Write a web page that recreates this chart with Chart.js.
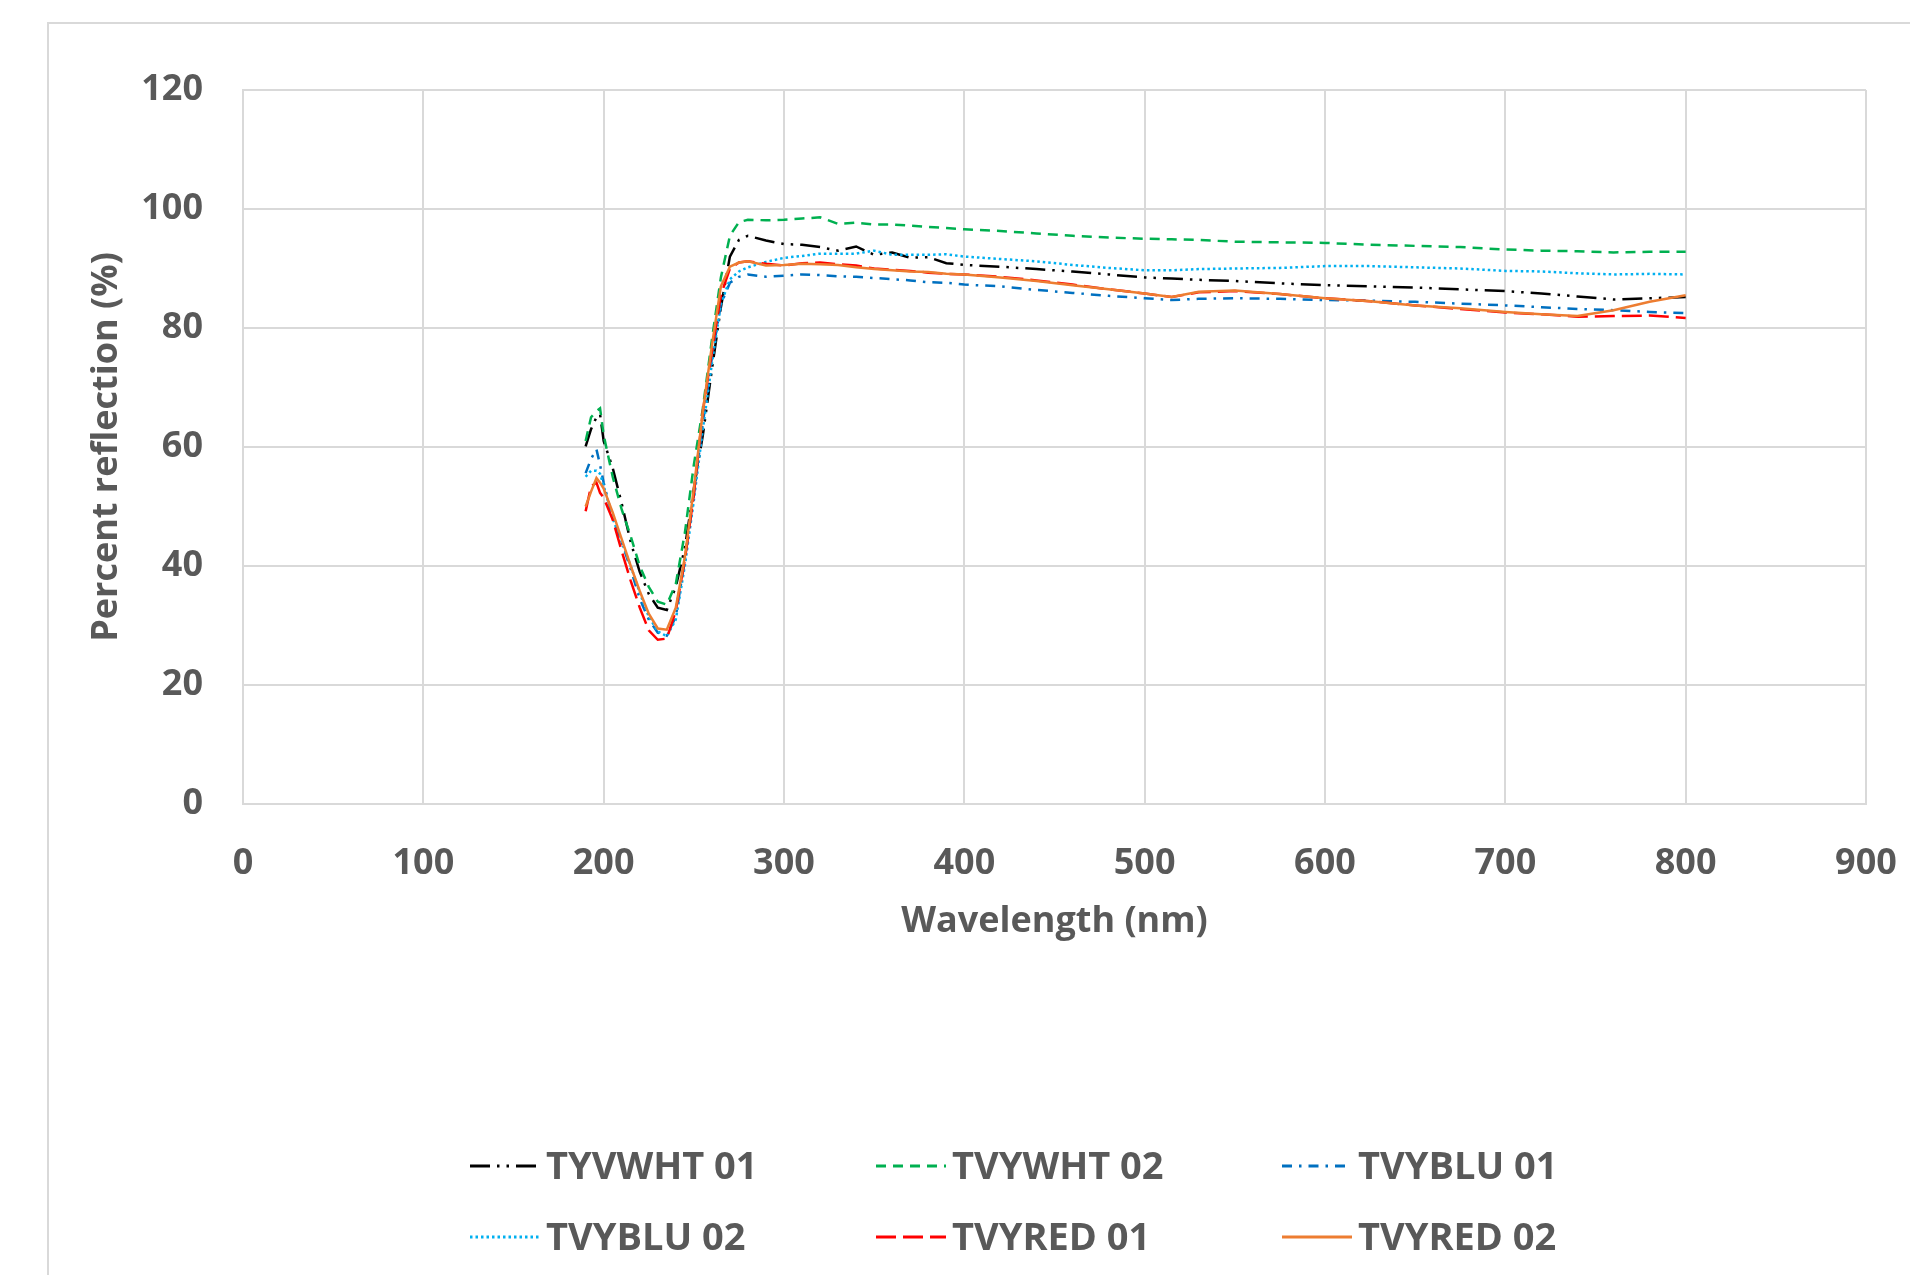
<!DOCTYPE html>
<html>
<head>
<meta charset="utf-8">
<script src="https://cdn.jsdelivr.net/npm/chart.js@4.4.0/dist/chart.umd.min.js"></script>
<style>
  html, body { margin: 0; padding: 0; background: #fff; overflow: hidden; }
  #wrap { position: relative; width: 1910px; height: 1275px; overflow: hidden; }
  #frame { position: absolute; left: 47px; top: 22px; width: 2000px; height: 1400px;
           border-left: 2px solid #d9d9d9; border-top: 2px solid #d9d9d9; }
  canvas { position: absolute; left: 0; top: 0; }
</style>
</head>
<body>
<div id="wrap">
  <div id="frame"></div>
  <canvas id="spectra" width="1910" height="1275"></canvas>
</div>
<script>
const wavelengths = [190, 193, 196, 198, 200, 205, 210, 215, 220, 225, 230, 235, 240, 245, 250, 255, 260, 265, 270, 275,
  280, 290, 300, 310, 320, 330, 340, 350, 360, 370, 380, 390, 400, 420, 440, 460, 480, 500, 515, 530,
  550, 575, 600, 625, 650, 675, 700, 720, 740, 760, 780, 800];

// percent reflection per sample
const tyvwht01 = [60.1, 63, 65, 65.5, 61, 56.5, 50.5, 44, 39, 35.3, 33, 32.6, 36.5, 43, 53, 62, 73, 83.5, 92, 94.8,
  95.5, 94.7, 94.1, 94.0, 93.6, 93.0, 93.7, 92.3, 92.7, 91.8, 91.9, 90.9, 90.6, 90.3, 89.9, 89.5, 89.0, 88.5, 88.3, 88.1,
  87.9, 87.5, 87.2, 87.0, 86.8, 86.5, 86.2, 85.8, 85.3, 84.8, 85.0, 85.2];
const tvywht02 = [61, 65, 66, 66.5, 62, 55, 49.5, 45, 40, 36.5, 34, 33.5, 37, 45.5, 57, 66.5, 78, 88.5, 95.5, 97.8,
  98.2, 98.1, 98.2, 98.4, 98.6, 97.5, 97.7, 97.4, 97.4, 97.2, 97.0, 96.8, 96.6, 96.3, 95.9, 95.5, 95.2, 95.0, 94.9, 94.8,
  94.5, 94.4, 94.3, 94.0, 93.8, 93.6, 93.2, 93.0, 92.9, 92.7, 92.8, 92.8];
const tvyblu01 = [55.6, 58, 59.6, 57, 54, 48, 44, 39.5, 34.5, 31, 28.8, 28.3, 31.5, 41, 52, 64, 75, 84, 87.6, 88.6,
  89.0, 88.6, 88.8, 89.0, 88.9, 88.7, 88.6, 88.4, 88.2, 88.0, 87.7, 87.6, 87.3, 87.0, 86.4, 85.9, 85.4, 85.0, 84.7, 84.9,
  85.0, 84.9, 84.7, 84.6, 84.4, 84.1, 83.8, 83.5, 83.2, 83.0, 82.7, 82.5];
const tvyblu02 = [55, 56, 56, 55.5, 53.5, 48, 44, 40, 35.5, 31.5, 29, 28.2, 31, 40, 51, 63, 74, 84, 88.2, 89.5,
  90.2, 91.1, 91.8, 92.1, 92.5, 92.5, 92.5, 93.0, 92.3, 92.3, 92.3, 92.4, 92.0, 91.6, 91.2, 90.6, 90.1, 89.7, 89.7, 89.9,
  90.0, 90.1, 90.4, 90.4, 90.2, 90.0, 89.6, 89.5, 89.2, 89.0, 89.1, 89.0];
const tvyred01 = [49.2, 53.4, 54, 52.3, 51.5, 47.8, 42.5, 37.5, 33, 29.2, 27.6, 27.8, 32.5, 41, 52, 66, 76, 85.5, 90.0, 91.0,
  91.2, 90.8, 90.5, 90.9, 91.0, 90.7, 90.5, 90.0, 89.8, 89.6, 89.3, 89.1, 89.0, 88.6, 88.0, 87.3, 86.5, 85.8, 85.2, 86.0,
  86.2, 85.7, 85.0, 84.5, 83.8, 83.2, 82.6, 82.3, 81.9, 82.0, 82.1, 81.7];
const tvyred02 = [50, 52.5, 54.8, 54, 53, 49, 44.5, 40, 35.8, 32, 29.5, 29.3, 33, 41.5, 53, 66, 77, 87, 90.3, 91.0,
  91.2, 90.5, 90.6, 90.8, 90.7, 90.6, 90.2, 89.9, 89.7, 89.5, 89.4, 89.1, 89.0, 88.5, 87.9, 87.2, 86.5, 85.8, 85.2, 86.1,
  86.3, 85.7, 85.0, 84.5, 83.8, 83.3, 82.7, 82.3, 82.0, 83.0, 84.4, 85.5];

const seriesNames = ['TYVWHT 01', 'TVYWHT 02', 'TVYBLU 01', 'TVYBLU 02', 'TVYRED 01', 'TVYRED 02'];
const seriesValues = [tyvwht01, tvywht02, tvyblu01, tvyblu02, tvyred01, tvyred02];
const seriesColors = ['#000000', '#00b050', '#0070c0', '#00b0f0', '#ff0000', '#ed7d31'];
const seriesDashes = [[20, 7, 2.5, 7, 2.5, 7], [10, 7], [10, 7, 2.5, 7], [2.5, 3], [20, 7], []];

const FONT = '"Open Sans", "Liberation Sans", sans-serif';
const GREY = '#595959';
const GRID = '#d9d9d9';

// draws the legend in fixed columns the way the spreadsheet lays it out
const gridLegend = {
  id: 'gridLegend',
  afterDraw(chart) {
    const ctx = chart.ctx;
    ctx.save();
    ctx.font = 'bold 38px ' + FONT;
    ctx.textBaseline = 'middle';
    chart.data.datasets.forEach((ds, i) => {
      const x = 470 + (i % 3) * 406;
      const y = 1166 + Math.floor(i / 3) * 71;
      ctx.save();
      ctx.strokeStyle = ds.borderColor;
      ctx.lineWidth = 3;
      ctx.setLineDash(ds.borderDash);
      ctx.beginPath();
      ctx.moveTo(x, y);
      ctx.lineTo(x + 70, y);
      ctx.stroke();
      ctx.restore();
      ctx.fillStyle = GREY;
      ctx.fillText(ds.label, x + 76, y + 2);
    });
    ctx.restore();
  }
};

const datasets = seriesNames.map((name, i) => ({
  label: name,
  data: wavelengths.map((w, j) => ({ x: w, y: seriesValues[i][j] })),
  borderColor: seriesColors[i],
  backgroundColor: seriesColors[i],
  borderDash: seriesDashes[i],
  borderWidth: 2.5,
  pointRadius: 0,
  tension: 0,
  order: seriesNames.length - i
}));

function build() {
  new Chart(document.getElementById('spectra'), {
    type: 'line',
    data: { datasets: datasets },
    options: {
      responsive: false,
      animation: false,
      layout: { padding: { top: 90, right: 44, bottom: 311, left: 0 } },
      plugins: { legend: { display: false }, tooltip: { enabled: false } },
      scales: {
        x: {
          type: 'linear',
          min: 0, max: 900,
          ticks: { stepSize: 100, color: GREY, padding: 38, font: { family: FONT, size: 36, weight: 'bold' } },
          grid: { color: GRID, lineWidth: 2, drawTicks: false },
          border: { color: GRID, width: 2 },
          title: { display: true, text: 'Wavelength (nm)', color: GREY, padding: { top: 0, bottom: 21 },
                   font: { family: FONT, size: 36, weight: 'bold' } },
          afterFit: s => { s.height = 160; s.paddingLeft = 0; s.paddingRight = 0; }
        },
        y: {
          min: 0, max: 120,
          ticks: { stepSize: 20, color: GREY, padding: 40, font: { family: FONT, size: 36, weight: 'bold' } },
          grid: { color: GRID, lineWidth: 2, drawTicks: false },
          border: { color: GRID, width: 2 },
          title: { display: true, text: 'Percent reflection (%)', color: GREY, padding: { top: 85, bottom: 0 },
                   font: { family: FONT, size: 36, weight: 'bold' } },
          afterFit: s => { s.width = 243; s.paddingTop = 0; s.paddingBottom = 0; }
        }
      }
    },
    plugins: [gridLegend]
  });
}

document.fonts.load('bold 36px "Open Sans"').then(build, build);
</script>
</body>
</html>
